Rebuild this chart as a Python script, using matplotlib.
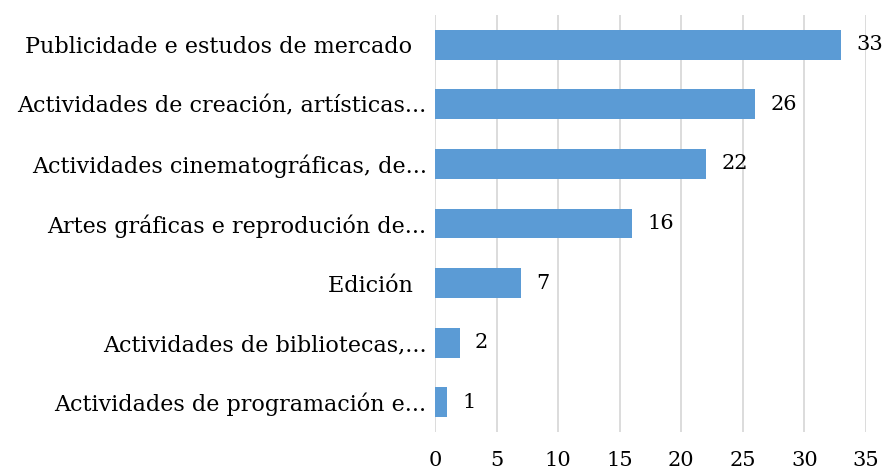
import matplotlib.pyplot as plt
import matplotlib.ticker as ticker

categories = ["Publicidade e estudos de mercado  ",
              "Actividades de creación, artísticas...",
              "Actividades cinematográficas, de...",
              "Artes gráficas e reprodución de...",
              "Edición  ",
              "Actividades de bibliotecas,...",
              "Actividades de programación e..."]
values = [33, 26, 22, 16, 7, 2, 1]

plt.rcParams['font.family'] = ['DejaVu Serif']

fig = plt.figure(figsize=(8.85, 4.75), dpi=100)
ax = fig.add_axes([435/885, 1 - 432/475, 431/885, 417/475])

pos = list(range(len(categories)))[::-1]
ax.barh(pos, values, height=0.5, color='#5B9BD5', zorder=3)
for p, v in zip(pos, values):
    ax.text(v + 1.25, p, str(v), va='center', ha='left', fontsize=15, color='black')

ax.set_xlim(0, 35)
ax.set_ylim(-0.5, 6.5)
ax.set_yticks(pos)
ax.set_yticklabels(categories, fontsize=16)
ax.xaxis.set_major_locator(ticker.MultipleLocator(5))
ax.tick_params(axis='x', labelsize=15, length=0, pad=14)
ax.tick_params(axis='y', length=0, pad=6)
ax.grid(axis='x', color='#D9D9D9', linewidth=1.3, zorder=0)
for s in ax.spines.values():
    s.set_visible(False)

plt.savefig("out.png", dpi=100)
